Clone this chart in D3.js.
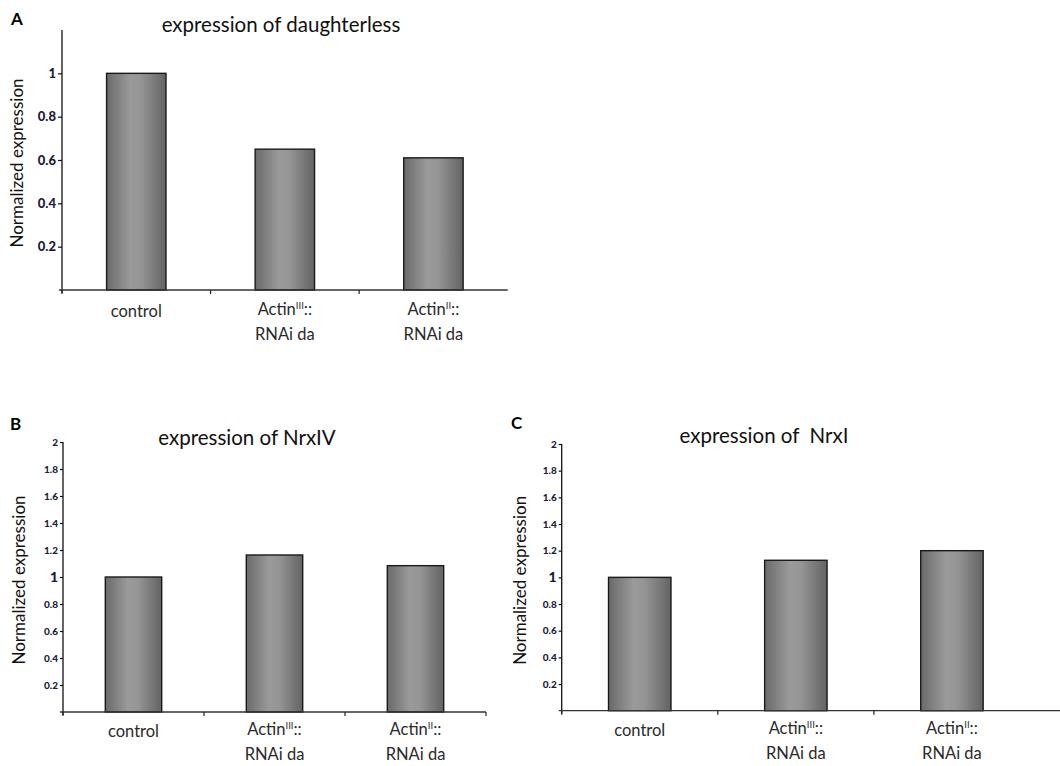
<!DOCTYPE html>
<html>
<head>
<meta charset="utf-8">
<script src="https://cdn.jsdelivr.net/npm/d3@7"></script>
<style>
  body { margin: 0; background: #fff; }
  text { font-family: Lato, "Open Sans", sans-serif; white-space: pre; }
</style>
</head>
<body>
<script>
var svgWidth = 1060;
var svgHeight = 766;

// categories: "^" starts a superscript, "|" breaks the line
var categories = ["control", "Actin^III::|RNAi da", "Actin^II::|RNAi da"];

var daValues = [1.0, 0.65, 0.61];
var nrxIVValues = [1.0, 1.163, 1.084];
var nrxIValues = [1.0, 1.128, 1.2];

var ticksA = [0.2, 0.4, 0.6, 0.8, 1];
var ticksBC = [0.2, 0.4, 0.6, 0.8, 1, 1.2, 1.4, 1.6, 1.8, 2];

var panels = [
  {letter: 'A', title: 'expression of daughterless', values: daValues, ticks: ticksA, yMax: 1.2,
   x0: 62, x1: 507.7, axisEnd: 507.7, base: 290, top: 30, letterX: 11, letterY: 25,
   titleX: 281, titleY: 32, labelX: 23, tickFont: 13, oneFont: 13, tickLen: 4, xTicks: 3, labY: 317},
  {letter: 'B', title: 'expression of NrxIV', values: nrxIVValues, ticks: ticksBC, yMax: 2,
   x0: 63, x1: 486, axisEnd: 486, base: 712, top: 442, letterX: 10, letterY: 430,
   titleX: 247, titleY: 445, labelX: 25, tickFont: 10, oneFont: 14, tickLen: 3, xTicks: 4, labY: 737},
  {letter: 'C', title: 'expression of  NrxI', values: nrxIValues, ticks: ticksBC, yMax: 2,
   x0: 561.7, x1: 1030, axisEnd: 1060, base: 710.7, top: 444, letterX: 511, letterY: 429,
   titleX: 764, titleY: 443, labelX: 526, tickFont: 10, oneFont: 14, tickLen: 3, xTicks: 3, labY: 736}
];

var svg = d3.select('body').append('svg')
  .attr('width', svgWidth)
  .attr('height', svgHeight);

var grad = svg.append('defs').append('linearGradient')
  .attr('id', 'barGrad')
  .attr('x1', '0%').attr('x2', '100%').attr('y1', '0%').attr('y2', '0%');
grad.selectAll('stop').data([
  {o: '0%', c: '#6a6a6a'}, {o: '40%', c: '#9a9a9a'}, {o: '58%', c: '#959595'}, {o: '100%', c: '#636363'}
]).enter().append('stop')
  .attr('offset', function(d){return d.o})
  .attr('stop-color', function(d){return d.c});

panels.forEach(function(p){
  var g = svg.append('g');

  var x = d3.scaleBand().domain(categories).range([p.x0, p.x1])
    .paddingInner(0.6).paddingOuter(0.3);
  var y = d3.scaleLinear().domain([0, p.yMax]).range([p.base, p.top]);

  // bars
  g.selectAll('rect').data(p.values)
    .enter().append('rect')
      .attr('x', function(d, i){return x(categories[i])})
      .attr('y', function(d){return y(d)})
      .attr('width', x.bandwidth())
      .attr('height', function(d){return y(0) - y(d)})
      .attr('fill', 'url(#barGrad)')
      .attr('stroke', '#1a1a1a')
      .attr('stroke-width', 1.4);

  // y axis
  var yAxis = g.append('g')
    .attr('transform', 'translate(' + p.x0 + ',0)')
    .call(d3.axisLeft(y).tickValues(p.ticks).tickSize(p.tickLen).tickPadding(2)
      .tickFormat(function(d){return d3.format('')(+d.toFixed(1))}));
  yAxis.select('.domain').attr('d', 'M0,' + p.top + 'V' + (p.base + 3))
    .attr('stroke', '#111').attr('stroke-width', 1.3);
  yAxis.selectAll('.tick line').attr('stroke', '#111').attr('stroke-width', 1.2);
  yAxis.selectAll('.tick text')
    .attr('fill', '#1c1c38')
    .style('font-weight', '900')
    .style('font-size', function(d){return (d === 1 ? p.oneFont : p.tickFont) + 'px'});

  // x axis line and boundary ticks
  g.append('line')
    .attr('x1', p.x0 - 3).attr('x2', p.axisEnd)
    .attr('y1', p.base).attr('y2', p.base)
    .attr('stroke', '#333').attr('stroke-width', 1.3);
  g.selectAll('line.xt').data(d3.range(p.xTicks))
    .enter().append('line').attr('class', 'xt')
      .attr('x1', function(i){return p.x0 + i * x.step()})
      .attr('x2', function(i){return p.x0 + i * x.step()})
      .attr('y1', p.base).attr('y2', p.base + 4)
      .attr('stroke', '#222').attr('stroke-width', 1.2);

  // category labels
  categories.forEach(function(c){
    var cx = x(c) + x.bandwidth() / 2;
    c.split('|').forEach(function(line, li){
      var t = g.append('text')
        .attr('x', cx).attr('y', p.labY - (li === 0 && c.indexOf('|') >= 0 ? 2 : 0) + li * 23)
        .attr('text-anchor', 'middle')
        .attr('fill', '#2a2a2a')
        .style('font-size', '16.5px');
      var parts = line.split('^');
      t.append('tspan').text(parts[0]);
      if (parts.length > 1) {
        var sup = parts[1].match(/^[IV]+/)[0];
        t.append('tspan').attr('dy', -6).style('font-size', '9.5px').text(sup);
        t.append('tspan').attr('dy', 6).text(parts[1].slice(sup.length));
      }
    });
  });

  // title, letter, y label
  g.append('text')
    .attr('x', p.titleX).attr('y', p.titleY)
    .attr('text-anchor', 'middle')
    .attr('fill', '#111')
    .style('font-size', '20.5px')
    .text(p.title);
  g.append('text')
    .attr('x', p.letterX).attr('y', p.letterY)
    .attr('fill', '#000')
    .style('font-size', '17px').style('font-weight', 'bold')
    .text(p.letter);
  g.append('text')
    .attr('transform', 'translate(' + p.labelX + ',' + ((p.top + p.base) / 2 + 3) + ') rotate(-90)')
    .attr('text-anchor', 'middle')
    .attr('fill', '#111')
    .style('font-size', '17px')
    .text('Normalized expression');
});
</script>
</body>
</html>
